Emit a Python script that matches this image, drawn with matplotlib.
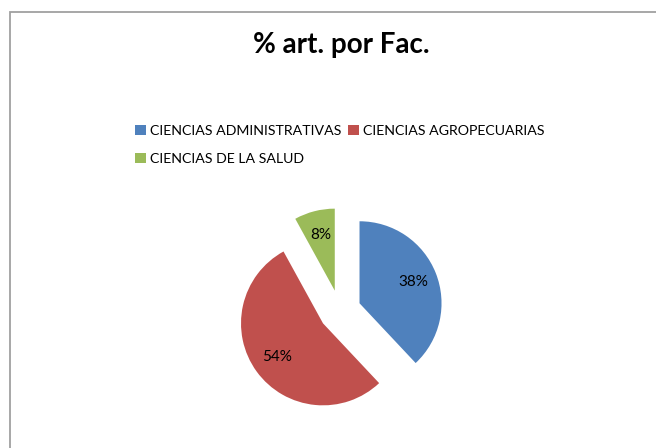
import matplotlib.pyplot as plt
from matplotlib.patches import Rectangle

faculties = ["CIENCIAS ADMINISTRATIVAS", "CIENCIAS AGROPECUARIAS", "CIENCIAS DE LA SALUD"]
shares = [38, 54, 8]
colors = ["#4F81BD", "#C0504D", "#9BBB59"]

plt.rcParams["font.family"] = ["Lato", "DejaVu Sans"]

W, H = 656, 448
fig = plt.figure(figsize=(W / 100, H / 100), dpi=100)
ax = fig.add_axes([0, 0, 1, 1])

# explode is in data units (pixels here), not a fraction of the radius
wedges, _, pct_texts = ax.pie(
    shares, colors=colors, startangle=90, counterclock=False,
    explode=[21] * 3, radius=82, center=(340, H - 311),
    autopct="%1.0f%%", pctdistance=0.7,
    textprops={"fontsize": 11, "color": "black"},
    wedgeprops={"linewidth": 0},
)
ax.set_xlim(0, W)
ax.set_ylim(0, H)
ax.set_aspect("equal")
ax.axis("off")

# chart frame, cut off at the right and bottom like the screenshot
fig.patches.append(Rectangle((9.5 / W, -0.1), 1.2, 1 - 11.5 / H + 0.1,
                             transform=fig.transFigure, fill=False,
                             edgecolor="#a0a0a0", linewidth=1.3))

fig.text(341 / W, 1 - 53 / H, "% art. por Fac.", ha="center", va="baseline",
         fontsize=20, fontweight="bold")

# legend flows row-wise like Excel: reorder so ncol=2 fills rows
order = [0, 2, 1]
fig.legend([wedges[i] for i in order], [faculties[i] for i in order],
           ncol=2, loc="upper left", bbox_to_anchor=(128 / W, 1 - 118 / H),
           frameon=False, fontsize=10.2, handlelength=0.75, handleheight=0.75,
           handletextpad=0.3, columnspacing=0.5, labelspacing=1.1, borderpad=0)

fig.savefig("out.png", dpi=100)
